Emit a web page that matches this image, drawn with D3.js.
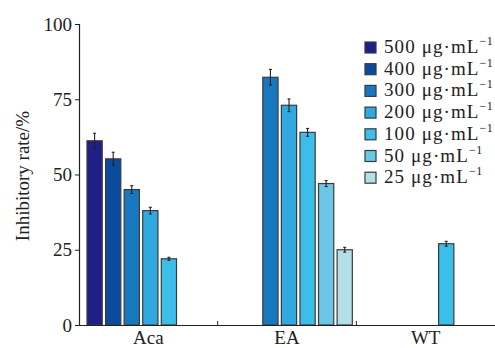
<!DOCTYPE html>
<html>
<head>
<meta charset="utf-8">
<script src="https://cdn.jsdelivr.net/npm/d3@7"></script>
<style>
  body { margin: 0; background: #fff; }
  text { font-family: "Liberation Serif", "Times New Roman", serif; fill: #222; }
</style>
</head>
<body>
<div id="chart"></div>
<script>
// groups on the x axis
var groups = ["Aca", "EA", "WT"];
// concentration series (legend order)
var series = ["500", "400", "300", "200", "100", "50", "25"];
var colors = ["#1f1f87", "#0b4b9d", "#1878bf", "#30a9e0", "#3bbfea", "#6bc7e6", "#b3e0e8"];
// inhibitory rate (%) per group, null = not measured
var values = {
  Aca: [61.2, 55.2, 45, 38, 22, null, null],
  EA:  [null, null, 82.3, 73, 64, 47, 25],
  WT:  [null, null, null, null, 27, null, null]
};
var errors = {
  Aca: [2.5, 2.2, 1.3, 1.1, 0.5, null, null],
  EA:  [null, null, 2.6, 2.1, 1.3, 1.0, 0.8],
  WT:  [null, null, null, null, 0.8, null, null]
};
var yTicks = [0, 25, 50, 75, 100];

var width = 495, height = 348;
var margin = { left: 79, right: 0, top: 24, bottom: 23 };
var fontFam = "'Liberation Serif', 'Times New Roman', serif";

var svg = d3.select("#chart").append("svg")
  .attr("width", width)
  .attr("height", height);

var x = d3.scaleBand()
  .domain(groups)
  .range([margin.left, width - margin.right])
  .paddingInner(0)
  .paddingOuter(0);

var xs = d3.scaleBand()
  .domain(series)
  .range([8, x.bandwidth() - 4])
  .paddingInner(0.18)
  .paddingOuter(0);

var y = d3.scaleLinear()
  .domain([0, 100])
  .range([height - margin.bottom, margin.top]);

/** bars */
var rows = [];
groups.forEach(function(g) {
  series.forEach(function(s, i) {
    if (values[g][i] != null) {
      rows.push({ g: g, s: s, i: i, v: values[g][i], e: errors[g][i] });
    }
  });
});

svg.append("g").selectAll("rect")
  .data(rows)
  .enter().append("rect")
  .attr("x", function(d) { return x(d.g) + xs(d.s); })
  .attr("y", function(d) { return y(d.v); })
  .attr("width", xs.bandwidth())
  .attr("height", function(d) { return y(0) - y(d.v); })
  .attr("fill", function(d) { return colors[d.i]; })
  .attr("stroke", "#3a3a3a")
  .attr("stroke-width", 1.2);

/** error bars */
var eb = svg.append("g").selectAll("g")
  .data(rows)
  .enter().append("g")
  .attr("stroke", "#222")
  .attr("stroke-width", 1.1);
eb.append("line")
  .attr("x1", function(d) { return x(d.g) + xs(d.s) + xs.bandwidth() / 2; })
  .attr("x2", function(d) { return x(d.g) + xs(d.s) + xs.bandwidth() / 2; })
  .attr("y1", function(d) { return y(d.v + d.e); })
  .attr("y2", function(d) { return y(d.v - d.e); });
[1, -1].forEach(function(sign) {
  eb.append("line")
    .attr("x1", function(d) { return x(d.g) + xs(d.s) + xs.bandwidth() / 2 - 1.5; })
    .attr("x2", function(d) { return x(d.g) + xs(d.s) + xs.bandwidth() / 2 + 1.5; })
    .attr("y1", function(d) { return y(d.v + sign * d.e); })
    .attr("y2", function(d) { return y(d.v + sign * d.e); });
});

/** y axis */
var yAxis = svg.append("g")
  .attr("transform", "translate(" + margin.left + ",0)")
  .call(d3.axisLeft(y).tickValues(yTicks).tickSize(4).tickPadding(3));
yAxis.select(".domain").attr("stroke", "#222").attr("stroke-width", 1.2);
yAxis.selectAll(".tick line").attr("stroke", "#222");
yAxis.selectAll(".tick text")
  .style("font-family", fontFam)
  .style("font-size", "19px")
  .attr("fill", "#222");

/** x axis */
var xAxis = svg.append("g")
  .attr("transform", "translate(0," + y(0) + ")")
  .call(d3.axisBottom(x).tickSize(0).tickPadding(6));
xAxis.select(".domain").attr("stroke", "#222").attr("stroke-width", 1.2);
xAxis.selectAll(".tick text")
  .style("font-family", fontFam)
  .style("font-size", "19px")
  .attr("fill", "#222");
// separators between groups
svg.append("g").selectAll("line")
  .data(groups.slice(1))
  .enter().append("line")
  .attr("x1", function(d) { return x(d); })
  .attr("x2", function(d) { return x(d); })
  .attr("y1", y(0))
  .attr("y2", y(0) - 4)
  .attr("stroke", "#222");

/** y title */
svg.append("text")
  .attr("transform", "translate(29,176) rotate(-90)")
  .attr("text-anchor", "middle")
  .style("font-size", "19px")
  .text("Inhibitory rate/%");

/** legend */
var legend = svg.append("g").attr("transform", "translate(365,42)");
var item = legend.selectAll("g")
  .data(series)
  .enter().append("g")
  .attr("transform", function(d, i) { return "translate(0," + (i * 21.7) + ")"; });
item.append("rect")
  .attr("width", 11)
  .attr("height", 11)
  .attr("fill", function(d, i) { return colors[i]; })
  .attr("stroke", "#3a3a3a")
  .attr("stroke-width", 1.2);
var lt = item.append("text")
  .attr("x", 19)
  .attr("y", 11)
  .style("font-size", "19px")
  .style("letter-spacing", "1.1px");
lt.append("tspan").text(function(d) { return d + " \u03bcg\u00b7mL"; });
lt.append("tspan")
  .attr("dy", -8)
  .style("font-size", "12px")
  .style("letter-spacing", "0.5px")
  .text("\u22121");
</script>
</body>
</html>
